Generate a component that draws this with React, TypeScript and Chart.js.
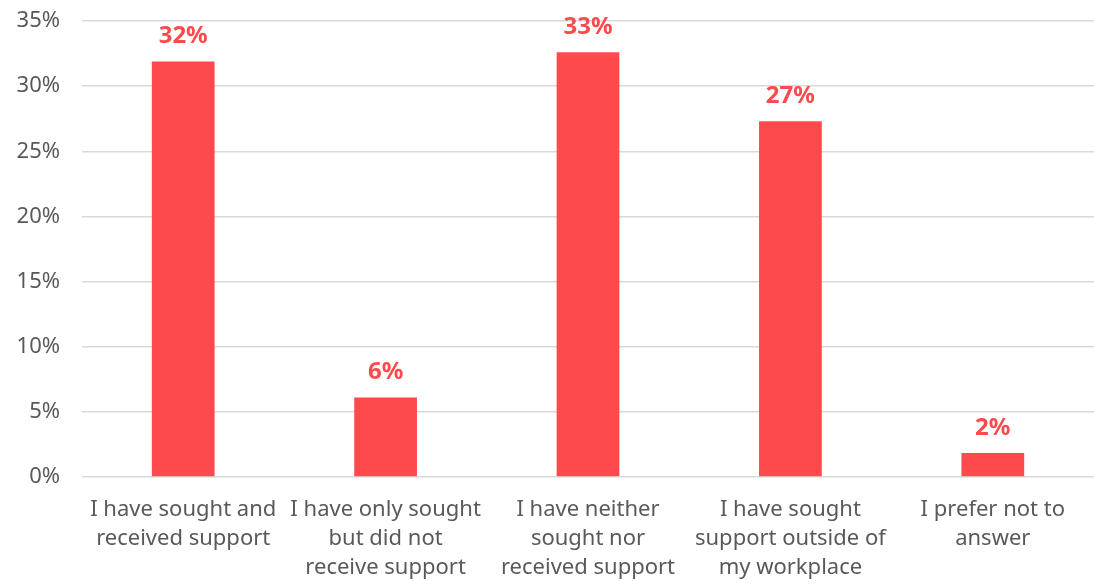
import React, { useEffect, useRef } from "react";
import { Chart, registerables } from "chart.js";

Chart.register(...registerables);

const categories: string[][] = [
  ["I have sought and", "received support"],
  ["I have only sought", "but did not", "receive support"],
  ["I have neither", "sought nor", "received support"],
  ["I have sought", "support outside of", "my workplace"],
  ["I prefer not to", "answer"],
];
const values: number[] = [31.9, 6.1, 32.6, 27.3, 1.85];
const yTicks: number[] = [0, 5, 10, 15, 20, 25, 30, 35];

const RED = "#FF4A4D";
const GRAY = "#595959";
const FONT = "'Noto Sans', Lato, sans-serif";

const dataLabels = {
  id: "dataLabels",
  afterDatasetsDraw(chart: any) {
    const ctx = chart.ctx;
    const meta = chart.getDatasetMeta(0);
    ctx.save();
    ctx.fillStyle = RED;
    ctx.font = `bold 24px ${FONT}`;
    ctx.textAlign = "center";
    ctx.textBaseline = "middle";
    meta.data.forEach((bar: any, i: number) => {
      ctx.fillText(`${Math.round(values[i])}%`, bar.x, bar.y - 25);
    });
    ctx.restore();
  },
};

export default function App() {
  const ref = useRef<HTMLCanvasElement | null>(null);
  useEffect(() => {
    document.body.style.margin = "0";
    const chart = new Chart(ref.current!, {
      type: "bar",
      data: {
        labels: categories,
        datasets: [
          {
            data: values,
            backgroundColor: RED,
            categoryPercentage: 1,
            barPercentage: 0.31,
          },
        ],
      },
      options: {
        animation: false,
        responsive: false,
        maintainAspectRatio: false,
        layout: { padding: { top: 21, right: 0, left: 0, bottom: 0 } },
        plugins: { legend: { display: false }, tooltip: { enabled: false } },
        scales: {
          x: {
            grid: { display: false, drawTicks: false },
            border: { display: false },
            ticks: {
              color: GRAY,
              font: { family: FONT, size: 22, lineHeight: 1.32 },
              padding: 18,
              maxRotation: 0,
              autoSkip: false,
            },
            afterFit(scale: any) {
              scale.height = 107;
              scale.paddingLeft = 0;
              scale.paddingRight = 0;
            },
          },
          y: {
            min: 0,
            max: 35,
            afterBuildTicks(scale: any) {
              scale.ticks = yTicks.map((v) => ({ value: v }));
            },
            grid: { color: "#D9D9D9", lineWidth: 1.5, drawTicks: false },
            border: { display: false },
            ticks: {
              color: GRAY,
              font: { family: FONT, size: 22 },
              padding: 22,
              callback: (v: any) => `${v}%`,
            },
            afterFit(scale: any) {
              scale.width = 82;
              scale.paddingTop = 0;
              scale.paddingBottom = 0;
            },
          },
        },
      },
      plugins: [dataLabels],
    });
    return () => chart.destroy();
  }, []);
  return <canvas ref={ref} width={1094} height={584} style={{ display: "block" }} />;
}
